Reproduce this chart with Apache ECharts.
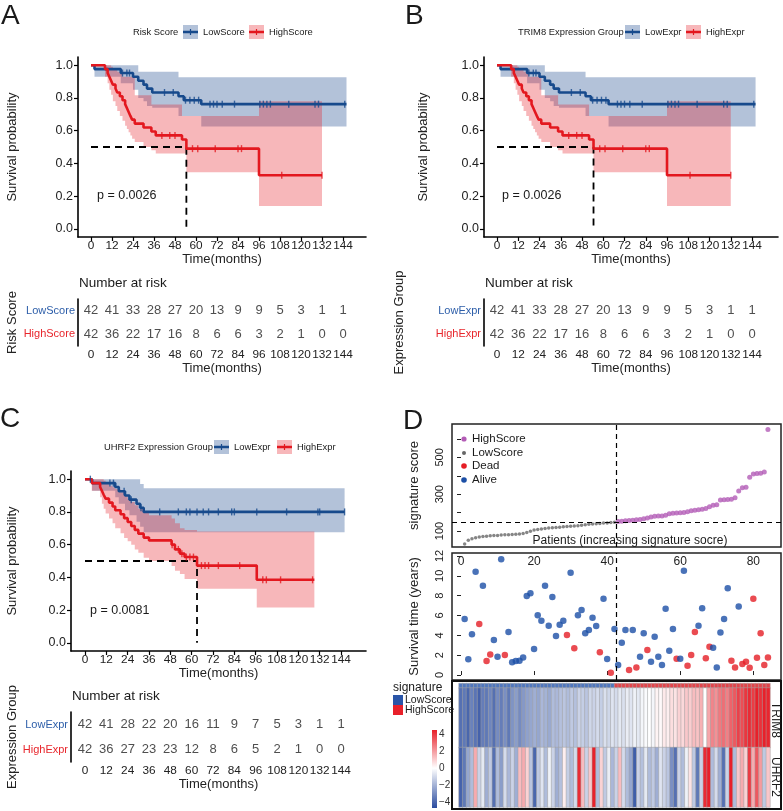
<!DOCTYPE html>
<html>
<head>
<meta charset="UTF-8">
<title>Survival panels</title>
<script src="https://cdn.jsdelivr.net/npm/echarts@6/dist/echarts.min.js"></script>
</head>
<body style="margin:0;background:#fff">
<div id="main" style="width:783px;height:811px"></div>
<script>
// ---- data ----
var months = [0, 12, 24, 36, 48, 60, 72, 84, 96, 108, 120, 132, 144];
var probTicks = [0, 0.2, 0.4, 0.6, 0.8, 1.0];

// rows: [time, survival, lower CI, upper CI]  (panels A and B share these curves)
var riskLowRows = [
    [0, 1, 1, 1], [2, 0.976, 0.93, 1], [17, 0.952, 0.89, 1], [24, 0.929, 0.85, 1],
    [27, 0.905, 0.80, 0.96], [30, 0.881, 0.78, 0.96], [32, 0.857, 0.75, 0.96],
    [35, 0.833, 0.74, 0.96], [50, 0.81, 0.69, 0.926], [53, 0.786, 0.69, 0.926],
    [63, 0.762, 0.626, 0.926]
];
var riskHighRows = [
    [0, 1, 1, 1], [8, 0.976, 0.93, 1], [9.5, 0.952, 0.89, 1], [10.5, 0.929, 0.85, 1],
    [11.5, 0.905, 0.82, 0.99], [12.5, 0.881, 0.78, 0.98], [14, 0.857, 0.75, 0.97],
    [15, 0.833, 0.72, 0.96], [16.5, 0.81, 0.69, 0.95], [18, 0.786, 0.66, 0.93],
    [19.5, 0.762, 0.63, 0.93], [20.5, 0.738, 0.61, 0.93], [21.5, 0.714, 0.59, 0.93],
    [22.5, 0.69, 0.57, 0.93], [23.5, 0.667, 0.55, 0.93], [25, 0.643, 0.53, 0.816],
    [30, 0.619, 0.50, 0.816], [34.5, 0.595, 0.48, 0.76], [37, 0.571, 0.46, 0.76],
    [52, 0.546, 0.46, 0.69], [54.5, 0.49, 0.345, 0.69], [96, 0.327, 0.14, 0.78]
];
var riskLowEnd = 146, riskHighEnd = 132, riskMedian = 54.5;
var riskLowCensor = [18, 20.5, 22, 42, 47, 54, 56.5, 59, 61.5, 68, 70, 72, 75, 82, 96.5, 98.5, 100.5, 102.5, 113, 128, 130, 145];
var riskHighCensor = [40.5, 45, 48, 58, 61, 71, 84, 86, 109, 132];
var riskLowAtRisk = [42, 41, 33, 28, 27, 20, 13, 9, 9, 5, 3, 1, 1];
var riskHighAtRisk = [42, 36, 22, 17, 16, 8, 6, 6, 3, 2, 1, 0, 0];

var uhrfLowRows = [
    [0, 1, 1, 1], [4, 0.976, 0.93, 1], [17, 0.952, 0.89, 1], [19, 0.926, 0.85, 1],
    [22.5, 0.90, 0.81, 1], [25, 0.875, 0.78, 1], [29, 0.85, 0.74, 1],
    [31, 0.825, 0.71, 0.97], [33, 0.80, 0.675, 0.945]
];
var uhrfHighRows = [
    [0, 1, 1, 1], [3.8, 0.976, 0.93, 1], [8.5, 0.952, 0.89, 1], [9.5, 0.929, 0.85, 1],
    [10.5, 0.905, 0.82, 0.99], [11.6, 0.881, 0.79, 0.98], [13.5, 0.857, 0.76, 0.96],
    [15.5, 0.833, 0.73, 0.95], [17, 0.81, 0.70, 0.94], [20, 0.786, 0.67, 0.92],
    [22, 0.762, 0.64, 0.90], [24, 0.738, 0.62, 0.88], [26, 0.714, 0.60, 0.86],
    [28, 0.69, 0.57, 0.84], [30, 0.667, 0.55, 0.82], [33, 0.643, 0.52, 0.80],
    [36, 0.626, 0.50, 0.78], [48.7, 0.60, 0.47, 0.76], [50.6, 0.571, 0.44, 0.73],
    [53.4, 0.545, 0.42, 0.70], [56, 0.524, 0.39, 0.69], [63, 0.472, 0.33, 0.68],
    [96.6, 0.385, 0.216, 0.68]
];
var uhrfLowEnd = 146, uhrfHighEnd = 129, uhrfMedian = 63;
var uhrfLowCensor = [3, 14, 16, 22, 26, 31.5, 42, 52.5, 57, 59, 63, 66.5, 69.5, 75, 82.5, 84, 96.6, 113.4, 131, 132, 146];
var uhrfHighCensor = [49, 52.5, 54.5, 57, 59, 61, 65.5, 67.5, 69.5, 75, 87, 100, 102, 110, 128];
var uhrfLowAtRisk = [42, 41, 28, 22, 20, 16, 11, 9, 7, 5, 3, 1, 1];
var uhrfHighAtRisk = [42, 36, 27, 23, 23, 12, 8, 6, 5, 2, 1, 0, 0];

// panel D
var lowScores = [29, 50, 58, 63, 67, 70, 72, 74, 75, 76, 78, 79, 80, 81, 82, 84, 87, 92, 99, 105,
    108, 111, 114, 116, 118, 119, 121, 123, 124, 126, 127, 129, 131, 134, 136, 138, 140, 141, 143, 144, 146, 147];
var highScores = [151, 153, 155, 157, 159, 161, 163, 166, 170, 176, 180, 181, 182, 186, 194, 196, 198, 199, 201, 204,
    210, 213, 215, 218, 222, 232, 240, 243, 268, 270, 271, 273, 280, 318, 335, 338, 392, 410, 412, 414, 420, 652];
var scoreCut = 149;
var survYears = [5.65, 1.58, 4.1, 10.4, 5.14, 9.0, 1.41, 2.08, 3.53, 1.85,
    11.66, 2.02, 4.34, 1.28, 1.41, 1.45, 1.78, 7.97, 8.24, 2.62,
    6.02, 5.48, 9.0, 4.97, 7.87, 3.93, 5.08, 5.48, 4.03, 10.3,
    2.69, 6.02, 6.55, 4.2, 4.54, 5.78, 4.94, 2.29, 7.7, 1.61,
    0.24, 4.64, 1.0, 3.26, 4.54, 0.5, 4.54, 0.77, 1.85, 4.2,
    2.52, 1.34, 3.87, 1.85, 1.0, 6.69, 2.45, 4.64, 1.65, 1.65,
    10.5, 0.94, 2.02, 4.34, 4.97, 6.72, 1.68, 2.86, 2.76, 0.77,
    4.3, 5.65, 8.74, 1.45, 0.77, 6.92, 1.11, 1.34, 0.74, 7.7,
    1.75, 4.2, 1.0, 1.78];
var deadStatus = [0, 0, 0, 0, 1, 0, 1, 1, 0, 0,
    0, 1, 0, 0, 0, 0, 0, 0, 0, 0,
    0, 0, 0, 0, 0, 0, 0, 0, 1, 0,
    1, 0, 0, 0, 0, 0, 0, 1, 0, 0,
    1, 0, 0, 0, 0, 1, 0, 1, 0, 0,
    1, 0, 0, 0, 0, 0, 0, 0, 1, 0,
    0, 1, 1, 1, 0, 0, 1, 1, 0, 0,
    0, 0, 0, 1, 1, 0, 1, 1, 1, 1,
    1, 1, 1, 1];
var trim8 = [-3.2, -3.0, -3.4, -2.8, -3.1, -3.5, -2.9, -3.0, -2.7, -3.2,
    -2.6, -2.9, -2.5, -3.0, -2.4, -2.2, -2.6, -2.3, -2.1, -2.0,
    -1.8, -2.0, -1.6, -1.7, -1.9, -1.5, -1.6, -1.4, -1.3, -1.5,
    -1.2, -1.4, -1.0, -1.1, -1.3, -0.9, -1.0, -0.8, -1.1, -0.7,
    -0.9, -0.6, -0.8, -0.5, -0.7, -0.4, -0.6, -0.3, -0.5, -0.2,
    -0.1, 0.0, -0.2, 0.2, 0.1, 0.4, 0.3, 0.6, 0.5, 0.8,
    0.7, 1.0, 0.9, 1.2, 1.1, 1.4, 0.0, 1.6, 2.2, 2.0,
    2.4, 2.6, 2.3, 2.8, 3.0, 3.4, 3.2, 3.6, 3.8, 3.5,
    4.0, 3.7, 4.2, 3.9];
var uhrf2 = [-3.5, -3.0, -2.0, -1.5, 1.5, -1.0, -0.5, -1.8, -1.2, -3.2,
    -1.5, -2.2, -0.8, -1.6, -1.0, -1.8, 1.2, 1.5, 0.8, -1.3,
    -3.4, -1.2, -0.6, -1.5, -0.3, -1.0, -1.8, -1.4, 0.3, -1.1,
    -1.5, -0.8, 3.8, 1.2, -1.0, 1.0, 4.0, -1.5, 0.8, -1.2,
    -0.4, -1.6, -1.0, 1.2, -0.8, -1.5, -2.0, -3.6, -1.0, -1.4,
    -0.5, -1.5, -1.2, -1.8, -0.6, -1.0, -1.3, -2.5, -3.2, -1.0,
    -1.5, -0.3, 0.5, -1.2, -3.0, -1.0, 3.8, 4.0, -1.5, -0.8,
    -1.8, -3.2, -1.0, 4.0, -1.5, 1.0, 1.5, 0.8, 3.5, 1.5,
    3.0, 1.8, -1.2, 1.0];
var scoreTicks = [100, 200, 300, 400, 500, 600];
var scoreLabels = [100, 300, 500];
var yearTicks = [0, 2, 4, 6, 8, 10, 12];
var patientTicks = [0, 20, 40, 60, 80];
var colorTicks = [4, 2, 0, -2, -4];

// ---- styling ----
var FONT = '"Liberation Sans", Arial, sans-serif';
var blueLine = '#174a8c', redLine = '#e3181f';
var blueBand = 'rgba(43,87,149,0.36)', redBand = 'rgba(230,30,40,0.32)';
var blueLab = '#2d5ea9', redLab = '#e8262c';
var ink = '#1a1a1a';
var legendFont = 9.4;

var chart = echarts.init(document.getElementById('main'), null, { renderer: 'canvas' });

var option = {
    animation: false,
    backgroundColor: '#fff',
    textStyle: { fontFamily: FONT },
    grid: [], xAxis: [], yAxis: [], series: [], graphic: [], visualMap: []
};

function txt(x, y, s, size, extra) {
    var el = {
        type: 'text', x: x, y: y, silent: true,
        style: {
            text: s, font: size + 'px ' + FONT, fill: ink,
            align: 'left', verticalAlign: 'middle', textAlign: 'left', textVerticalAlign: 'middle'
        }
    };
    if (extra) {
        if (extra.rotation !== undefined) el.rotation = extra.rotation;
        if (extra.align) { el.style.align = extra.align; el.style.textAlign = extra.align; }
        if (extra.fill) el.style.fill = extra.fill;
    }
    option.graphic.push(el);
}

function stepAt(rows, t) {
    var s = rows[0][1];
    for (var i = 0; i < rows.length; i++) if (rows[i][0] <= t) s = rows[i][1];
    return s;
}

function bandSeries(ax, rows, tEnd, color) {
    return {
        type: 'custom', xAxisIndex: ax, yAxisIndex: ax, silent: true, z: 1,
        data: [[rows[0][0], rows[0][1]]],
        renderItem: function (params, api) {
            var up = [], lo = [];
            for (var i = 0; i < rows.length; i++) {
                var t0 = rows[i][0], t1 = i + 1 < rows.length ? rows[i + 1][0] : tEnd;
                up.push(api.coord([t0, rows[i][3]]), api.coord([t1, rows[i][3]]));
                lo.push(api.coord([t0, rows[i][2]]), api.coord([t1, rows[i][2]]));
            }
            return { type: 'polygon', shape: { points: up.concat(lo.reverse()) }, style: { fill: color } };
        }
    };
}

function legendKey(x, y, line, band) {
    option.graphic.push({ type: 'rect', silent: true, shape: { x: x, y: y - 7, width: 15, height: 14 }, style: { fill: band } });
    option.graphic.push({ type: 'line', silent: true, shape: { x1: x, y1: y, x2: x + 15, y2: y }, style: { stroke: line, lineWidth: 2.5 } });
    option.graphic.push({ type: 'line', silent: true, shape: { x1: x + 7.5, y1: y - 3, x2: x + 7.5, y2: y + 3 }, style: { stroke: line, lineWidth: 1.2 } });
}

function addKM(p) {
    var g = option.grid.length;
    var xmin = (p.left - p.zeroPx) / p.ppm, xmax = xmin + p.width / p.ppm;
    function xAx(gi) {
        return {
            gridIndex: gi, type: 'value', min: xmin, max: xmax, splitLine: { show: false },
            axisLine: { onZero: false, lineStyle: { color: '#000', width: 1.6 } },
            axisTick: { customValues: months, length: 4, lineStyle: { color: '#000', width: 1.2 } },
            axisLabel: { customValues: months, fontSize: 11.8, color: '#222', margin: 3,
                hideOverlap: false, showMaxLabel: true, showMinLabel: true },
            name: 'Time(months)', nameLocation: 'middle', nameGap: 16,
            nameTextStyle: { fontSize: 13, color: '#222' }
        };
    }
    option.grid.push({ left: p.left, top: p.top, width: p.width, height: 180 });
    option.xAxis.push(xAx(g));
    option.yAxis.push({
        gridIndex: g, type: 'value', min: -0.05, max: 1.05, splitLine: { show: false },
        axisLine: { onZero: false, lineStyle: { color: '#000', width: 1.6 } },
        axisTick: { customValues: probTicks, length: 4, lineStyle: { color: '#000', width: 1.2 } },
        axisLabel: { customValues: probTicks, fontSize: 12.5, color: '#222', margin: 5,
            formatter: function (v) { return v.toFixed(1); } },
        name: 'Survival probability', nameLocation: 'middle', nameGap: p.yGap,
        nameTextStyle: { fontSize: 13, color: '#222' }
    });
    option.grid.push({ left: p.left, top: p.riskTop, width: p.width, height: p.riskH });
    option.xAxis.push(xAx(g + 1));
    option.yAxis.push({
        gridIndex: g + 1, type: 'category', data: [p.highName, p.lowName],
        axisLine: { onZero: false, lineStyle: { color: '#000', width: 1.6 } },
        axisTick: { length: 3, alignWithLabel: true, lineStyle: { color: '#000' } },
        axisLabel: {
            margin: 3, fontSize: 11,
            formatter: function (v) { return (v === p.lowName ? '{lo|' : '{hi|') + v + '}'; },
            rich: { lo: { color: blueLab, fontSize: 11 }, hi: { color: redLab, fontSize: 11 } }
        },
        name: p.groupName, nameLocation: 'middle', nameGap: p.riskGap,
        nameTextStyle: { fontSize: 13, color: '#222' }
    });

    option.series.push(bandSeries(g, p.low, p.lowEnd, blueBand));
    option.series.push(bandSeries(g, p.high, p.highEnd, redBand));
    option.series.push({
        type: 'line', xAxisIndex: g, yAxisIndex: g, silent: true, z: 2, symbol: 'none',
        data: [[0, 0.5], [p.median, 0.5], [p.median, 0]],
        lineStyle: { color: '#000', width: 1.8, type: [7, 5] }
    });
    [[p.low, p.lowEnd, blueLine, p.lowCensor], [p.high, p.highEnd, redLine, p.highCensor]].forEach(function (c) {
        var rows = c[0];
        option.series.push({
            type: 'line', step: 'end', xAxisIndex: g, yAxisIndex: g, silent: true, z: 3,
            symbol: 'none',
            data: rows.map(function (r) { return [r[0], r[1]]; }).concat([[c[1], rows[rows.length - 1][1]]]),
            lineStyle: { color: c[2], width: 2.6 }
        });
        option.series.push({
            type: 'scatter', xAxisIndex: g, yAxisIndex: g, silent: true, z: 4,
            symbol: 'rect', symbolSize: [1.4, 7], itemStyle: { color: c[2] },
            data: c[3].map(function (t) { return [t, stepAt(rows, t)]; })
        });
    });
    [[p.lowName, p.lowRisk], [p.highName, p.highRisk]].forEach(function (r) {
        option.series.push({
            type: 'scatter', xAxisIndex: g + 1, yAxisIndex: g + 1, silent: true,
            symbolSize: 1, itemStyle: { color: 'rgba(0,0,0,0)' },
            label: { show: true, position: 'inside', fontSize: 13, color: '#222',
                formatter: function (q) { return q.value[2]; } },
            data: months.map(function (t, i) { return [t, r[0], r[1][i]]; })
        });
    });

    txt(p.letterX, p.letterY, p.letter, 28);
    txt(p.pX, p.pY, p.pText, 12.5);
    txt(p.left + 1, p.riskTop - 16, 'Number at risk', 13.5);
    var L = p.legend;
    txt(L[0], L[5], p.legendTitle, legendFont);
    legendKey(L[1], L[5], blueLine, blueBand);
    txt(L[1] + 20, L[5], p.lowName, legendFont);
    legendKey(L[3], L[5], redLine, redBand);
    txt(L[3] + 20, L[5], p.highName, legendFont);
}

addKM({
    letter: 'A', letterX: 1, letterY: 16, left: 78, width: 288, zeroPx: 91, ppm: 1.75,
    top: 57, riskTop: 299, riskH: 47, yGap: 59, riskGap: 59,
    low: riskLowRows, high: riskHighRows, lowEnd: riskLowEnd, highEnd: riskHighEnd,
    lowCensor: riskLowCensor, highCensor: riskHighCensor, median: riskMedian,
    lowRisk: riskLowAtRisk, highRisk: riskHighAtRisk,
    lowName: 'LowScore', highName: 'HighScore', groupName: 'Risk Score',
    legendTitle: 'Risk Score', legend: [133, 183, 0, 249, 0, 32],
    pText: 'p = 0.0026', pX: 97, pY: 196
});
addKM({
    letter: 'B', letterX: 405, letterY: 16, left: 484, width: 294, zeroPx: 497, ppm: 1.771,
    top: 57, riskTop: 299, riskH: 47, yGap: 54, riskGap: 78,
    low: riskLowRows, high: riskHighRows, lowEnd: riskLowEnd, highEnd: riskHighEnd,
    lowCensor: riskLowCensor, highCensor: riskHighCensor, median: riskMedian,
    lowRisk: riskLowAtRisk, highRisk: riskHighAtRisk,
    lowName: 'LowExpr', highName: 'HighExpr', groupName: 'Expression Group',
    legendTitle: 'TRIM8 Expression Group', legend: [518, 625, 0, 686, 0, 32],
    pText: 'p = 0.0026', pX: 502, pY: 196
});
addKM({
    letter: 'C', letterX: 0, letterY: 419, left: 71, width: 295, zeroPx: 85, ppm: 1.778,
    top: 471, riskTop: 712, riskH: 50, yGap: 52, riskGap: 52,
    low: uhrfLowRows, high: uhrfHighRows, lowEnd: uhrfLowEnd, highEnd: uhrfHighEnd,
    lowCensor: uhrfLowCensor, highCensor: uhrfHighCensor, median: uhrfMedian,
    lowRisk: uhrfLowAtRisk, highRisk: uhrfHighAtRisk,
    lowName: 'LowExpr', highName: 'HighExpr', groupName: 'Expression Group',
    legendTitle: 'UHRF2 Expression Group', legend: [104, 214, 0, 277, 0, 447],
    pText: 'p = 0.0081', pX: 90, pY: 611
});

// ---- panel D ----
var nLow = lowScores.length;
var cutX = nLow + 0.5;
var pMin = (452 - 461) / 3.654, pMax = (781 - 461) / 3.654;
var dashLine = { silent: true, symbol: 'none', label: { show: false },
    lineStyle: { type: [5, 4], color: '#000', width: 1.2 } };

// top: risk score
var gTop = option.grid.length;
option.grid.push({ left: 452, top: 424, width: 329, height: 123, show: true, borderColor: '#222', borderWidth: 1.5 });
option.xAxis.push({ gridIndex: gTop, type: 'value', min: pMin, max: pMax, show: false });
option.yAxis.push({
    gridIndex: gTop, type: 'value', min: 13, max: 681.5, splitLine: { show: false },
    axisLine: { show: false },
    axisTick: { show: true, customValues: scoreTicks, length: 4, lineStyle: { color: '#222' } },
    axisLabel: { customValues: scoreLabels, rotate: 90, fontSize: 11, color: '#222', margin: 7 },
    name: 'signature score', nameLocation: 'middle', nameGap: 31, nameTextStyle: { fontSize: 13, color: '#222' }
});
option.series.push({
    type: 'scatter', xAxisIndex: gTop, yAxisIndex: gTop, symbolSize: 3.5, itemStyle: { color: '#666' },
    data: lowScores.map(function (v, i) { return [i + 1, v]; }),
    markLine: Object.assign({ data: [{ yAxis: scoreCut }, { xAxis: cutX }] }, dashLine)
});
option.series.push({
    type: 'scatter', xAxisIndex: gTop, yAxisIndex: gTop, symbolSize: 5, itemStyle: { color: '#b35cb6' },
    data: highScores.map(function (v, i) { return [i + nLow + 1, v]; })
});

// middle: survival time
var gMid = option.grid.length;
option.grid.push({ left: 452, top: 553, width: 329, height: 127, show: true, borderColor: '#222', borderWidth: 1.5 });
option.xAxis.push({
    gridIndex: gMid, type: 'value', position: 'top', min: pMin, max: pMax, splitLine: { show: false },
    axisLine: { show: false },
    axisTick: { show: true, customValues: patientTicks, length: 4, lineStyle: { color: '#222' } },
    axisLabel: { customValues: patientTicks, inside: true, fontSize: 12, color: '#222', margin: 3 }
});
option.yAxis.push({
    gridIndex: gMid, type: 'value', min: -0.5, max: 12.3, splitLine: { show: false },
    axisLine: { show: false },
    axisTick: { show: true, customValues: yearTicks, length: 4, lineStyle: { color: '#222' } },
    axisLabel: { customValues: yearTicks, rotate: 90, fontSize: 11, color: '#222', margin: 7 },
    name: 'Survival time (years)', nameLocation: 'middle', nameGap: 31, nameTextStyle: { fontSize: 13, color: '#222' }
});
[[1, '#e51e25'], [0, '#1c4fa6']].forEach(function (s) {
    var pts = [];
    survYears.forEach(function (v, i) { if (deadStatus[i] === s[0]) pts.push([i + 1, v]); });
    option.series.push({
        type: 'scatter', xAxisIndex: gMid, yAxisIndex: gMid, symbolSize: 6.5,
        itemStyle: { color: s[1] }, data: pts,
        markLine: s[0] === 1 ? Object.assign({ data: [{ xAxis: cutX }] }, dashLine) : undefined
    });
});

// heatmap: signature annotation row + genes
var patients = survYears.map(function (v, i) { return String(i + 1); });
var gSig = option.grid.length;
option.grid.push({ left: 459, top: 683.5, width: 311, height: 4.5 });
option.xAxis.push({ gridIndex: gSig, type: 'category', data: patients, show: false });
option.yAxis.push({ gridIndex: gSig, type: 'category', data: ['signature'], show: false });
var sigSeries = option.series.length;
option.series.push({
    type: 'heatmap', xAxisIndex: gSig, yAxisIndex: gSig, silent: true,
    itemStyle: { borderColor: '#a8a8a8', borderWidth: 0.5 },
    data: patients.map(function (p, i) { return [i, 0, i < nLow ? 0 : 1]; })
});
var gGene = option.grid.length;
option.grid.push({ left: 459, top: 688, width: 311, height: 119 });
option.xAxis.push({ gridIndex: gGene, type: 'category', data: patients, show: false });
option.yAxis.push({ gridIndex: gGene, type: 'category', data: ['UHRF2', 'TRIM8'], show: false });
var geneSeries = option.series.length;
option.series.push({
    type: 'heatmap', xAxisIndex: gGene, yAxisIndex: gGene, silent: true,
    itemStyle: { borderColor: '#a0a0a0', borderWidth: 0.5 },
    data: trim8.map(function (v, i) { return [i, 1, v]; }).concat(uhrf2.map(function (v, i) { return [i, 0, v]; }))
});
option.visualMap.push({
    type: 'continuous', show: false, min: -4, max: 4, dimension: 2, seriesIndex: geneSeries,
    inRange: { color: ['#2a4c9f', '#ffffff', '#e8202a'] }
});
option.visualMap.push({
    type: 'piecewise', show: false, dimension: 2, seriesIndex: sigSeries,
    pieces: [{ value: 0, color: '#5077bd' }, { value: 1, color: '#e2454b' }]
});

// D decorations
txt(403, 421, 'D', 28);
[['HighScore', '#b35cb6', 2.6, 439], ['LowScore', '#666', 2, 453], ['Dead', '#e51e25', 2.8, 466], ['Alive', '#1c4fa6', 2.8, 480]]
    .forEach(function (l) {
        option.graphic.push({ type: 'circle', silent: true, shape: { cx: 464, cy: l[3], r: l[2] }, style: { fill: l[1] } });
        txt(472, l[3], l[0], 11.5);
    });
txt(630, 541, 'Patients (increasing signature socre)', 12, { align: 'center' });
option.graphic.push({ type: 'rect', silent: true, shape: { x: 452, y: 681, width: 329, height: 128 },
    style: { fill: 'none', stroke: '#111', lineWidth: 2 } });
txt(775, 720, 'TRIM8', 12, { align: 'center', rotation: -Math.PI / 2 });
txt(775, 777, 'UHRF2', 12, { align: 'center', rotation: -Math.PI / 2 });
txt(393, 688, 'signature', 12);
option.graphic.push({ type: 'rect', silent: true, shape: { x: 393, y: 695, width: 10, height: 10 }, style: { fill: '#2a55a8' } });
txt(405, 700, 'LowScore', 10.5);
option.graphic.push({ type: 'rect', silent: true, shape: { x: 393, y: 705, width: 10, height: 10 }, style: { fill: '#e8202a' } });
txt(405, 710, 'HighScore', 10.5);
option.graphic.push({
    type: 'rect', silent: true, shape: { x: 432, y: 730, width: 5, height: 78 },
    style: { fill: new echarts.graphic.LinearGradient(0, 0, 0, 1, [
        { offset: 0, color: '#e8202a' }, { offset: 0.49, color: '#ffffff' }, { offset: 1, color: '#2a4c9f' }]) }
});
colorTicks.forEach(function (v) {
    txt(439, 768 - v * 8.5, v < 0 ? '\u2212' + Math.abs(v) : String(v), 10, { fill: '#333' });
});

chart.setOption(option);
</script>
</body>
</html>
